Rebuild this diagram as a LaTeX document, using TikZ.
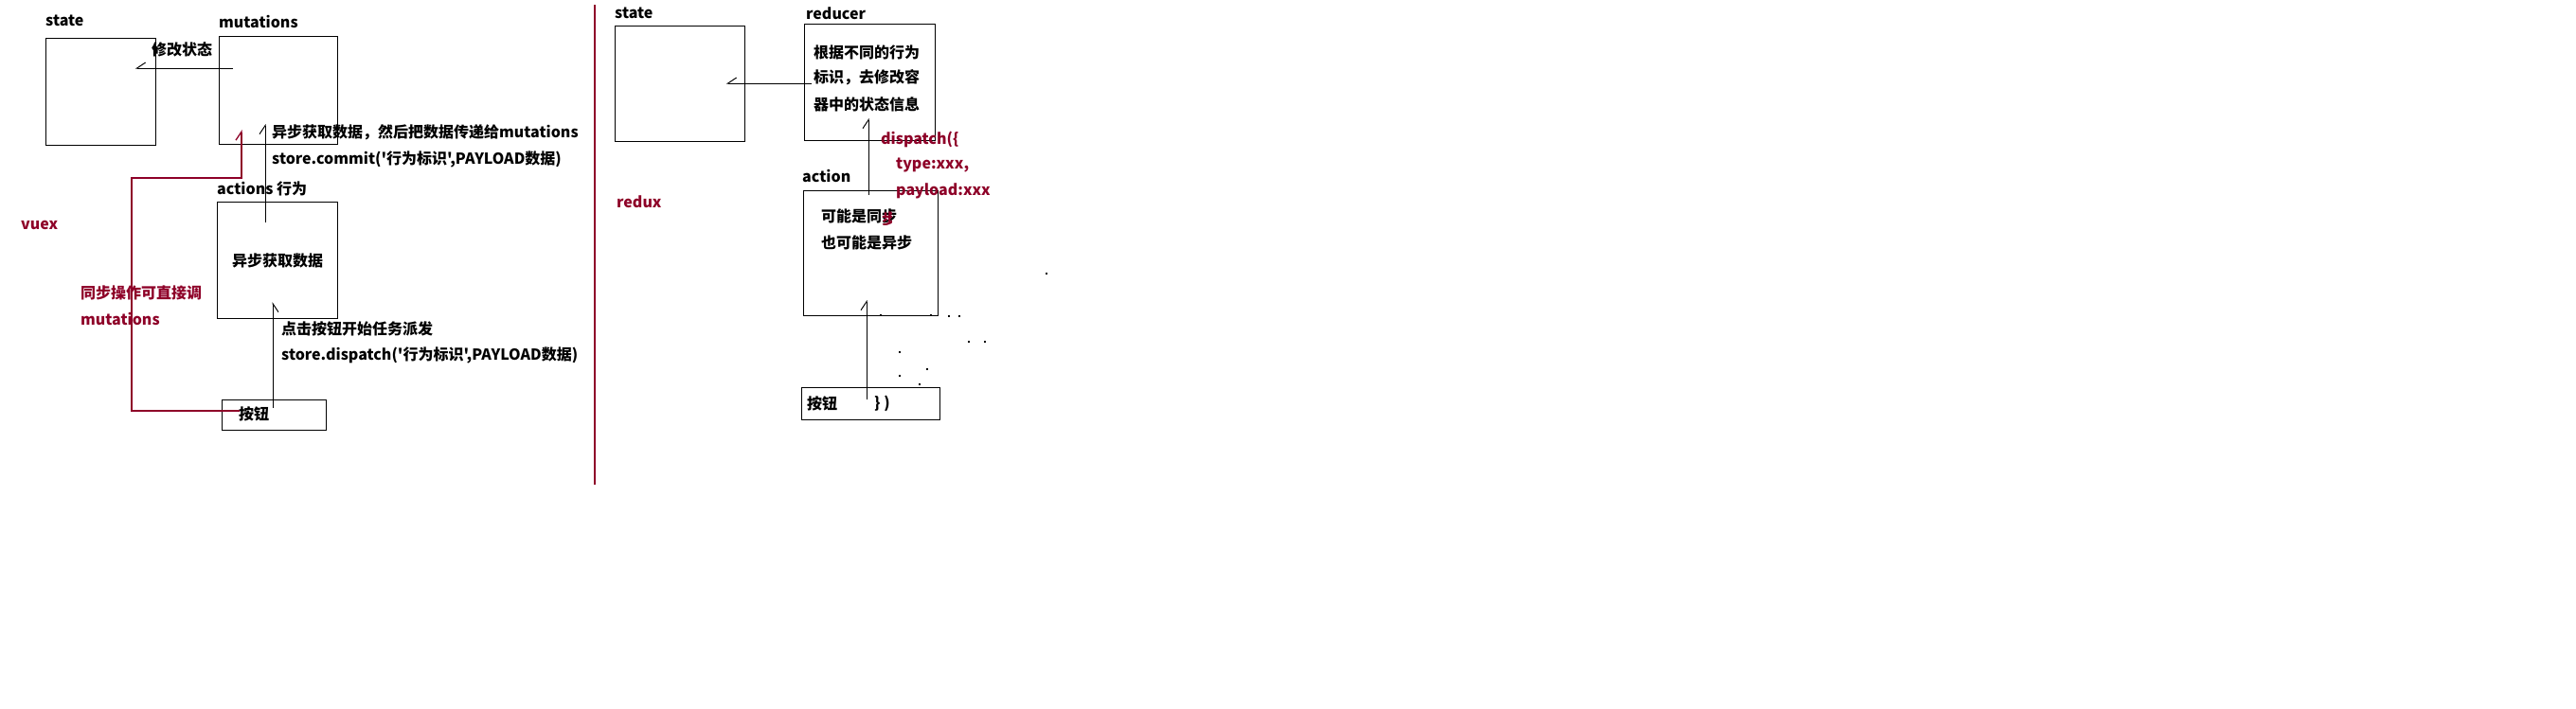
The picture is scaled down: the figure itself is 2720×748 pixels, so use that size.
\documentclass[tikz,border=0pt]{standalone}
\usepackage{fontspec}
\newfontfamily\cjk{Noto Sans CJK SC}
\usetikzlibrary{arrows.meta}
\definecolor{vred}{HTML}{8E0028}
\begin{document}
\begin{tikzpicture}[x=1pt,y=-1pt,
  txt/.style={font=\cjk\fontsize{16pt}{28pt}\selectfont\bfseries},
  box/.style={txt,draw=black,line width=1.2pt,inner sep=0pt,anchor=north west},
  lbl/.style={txt,anchor=west,inner sep=0pt},
  rlbl/.style={lbl,text=vred},
  conn/.style={line width=1pt},
  hl/.style={conn,-{Straight Barb[harpoon,length=9pt,width=12pt]}},
  hr/.style={conn,-{Straight Barb[harpoon,swap,length=9pt,width=12pt]}},
  redline/.style={draw=vred,line width=1.3pt},
]
\fill[white] (0,0) rectangle (2720,748);
\useasboundingbox (0,0) rectangle (2720,748);

% ---------------- vuex ----------------
\node[lbl] (stVl) at (48,22) {state};
\node[box,minimum width=116pt,minimum height=113pt] (stV) at (48,40) {};
\node[lbl] (muVl) at (231,23) {mutations};
\node[box,minimum width=125pt,minimum height=114pt] (muV) at (231,38) {};
\node[lbl] (modT) at (160,52) {修改状态};
\coordinate (m1) at (246,72);
\coordinate (s1) at (143,72);
\draw[hr] (m1) -- (s1);

\node[lbl] (acVl) at (229,199) {actions 行为};
\node[box,minimum width=127pt,minimum height=123pt] (acV) at (229,213) {异步获取数据};
\coordinate (a2s) at (280,235);
\coordinate (a2e) at (280,131);
\draw[hl] (a2s) -- (a2e);
\node[lbl] (t1) at (287,140) {异步获取数据，然后把数据传递给mutations};
\node[lbl] (t2) at (287,168) {store.commit('行为标识',PAYLOAD数据)};

\node[lbl] (t3) at (297,347) {点击按钮开始任务派发};
\node[lbl] (t4) at (297,375) {store.dispatch('行为标识',PAYLOAD数据)};
\node[box,minimum width=110pt,minimum height=32pt] (btV) at (234,422) {};
\node[lbl] (btVt) at (252,437) {按钮};
\coordinate (b1s) at (288,431);
\coordinate (b1e) at (288,319);
\draw[hr] (b1s) -- (b1e);

\node[rlbl] (vuex) at (22,238) {vuex};
\node[rlbl] (sync1) at (85,309) {同步操作可直接调};
\node[rlbl] (sync2) at (85,337) {mutations};
\coordinate (r0) at (253,434);
\coordinate (rA) at (139,434);
\coordinate (rB) at (139,188);
\coordinate (rC) at (255,188);
\coordinate (r3) at (255,137);
\draw[redline,-{Straight Barb[harpoon,length=9pt,width=12pt]}] (r0) -- (rA) -- (rB) -- (rC) -- (r3);

% divider
\coordinate (d0) at (628,5);
\coordinate (d1) at (628,512);
\draw[draw=vred,line width=1.2pt] (d0) -- (d1);

% ---------------- redux ----------------
\node[lbl] (stRl) at (649,14) {state};
\node[box,minimum width=137pt,minimum height=122pt] (stR) at (649,27) {};
\node[lbl] (reRl) at (851,14) {reducer};
\node[box,minimum width=138pt,minimum height=123pt] (reR) at (849,25) {};
\node[lbl] (re1) at (859,55) {根据不同的行为};
\node[lbl] (re2) at (859,82) {标识，去修改容};
\node[lbl] (re3) at (859,110) {器中的状态信息};
\coordinate (rr1) at (857,88);
\coordinate (rs1) at (767,88);
\draw[hr] (rr1) -- (rs1);

\node[lbl] (acRl) at (847,186) {action};
\node[box,minimum width=142pt,minimum height=132pt] (acR) at (848,201) {};
\node[lbl] (ac1) at (867,228) {可能是同步};
\begin{scope}
  \clip (929,221) rectangle (941,237);
  \node[rlbl] (redstep) at (931,231) {步};
\end{scope}
\node[lbl] (ac2) at (867,256) {也可能是异步};
\coordinate (ar1) at (917,206);
\coordinate (ar2) at (917,125);
\draw[hl] (ar1) -- (ar2);

\node[rlbl] (dp1) at (930,147) {dispatch(\{};
\node[rlbl] (dp2) at (946,175) {type:xxx,};
\node[rlbl] (dp3) at (946,202) {payload:xxx};

\node[rlbl] (redux) at (651,213) {redux};

\node[box,minimum width=146pt,minimum height=34pt] (btR) at (846,409) {};
\node[lbl] (btRt) at (852,426) {按钮};
\node[lbl] (btRb) at (923,426) {\} )};
\coordinate (br1) at (915,422);
\coordinate (br2) at (915,317);
\draw[hl] (br1) -- (br2);

% stray specks
\foreach \p in {(930,333),(983,333),(1002,334),(1013,334),(1023,361),(1040,361),(950,372),(979,390),(950,397),(971,406),(1105,289)}
  \fill[black] \p ++(-1,-1) rectangle ++(2,2);
\end{tikzpicture}
\end{document}
